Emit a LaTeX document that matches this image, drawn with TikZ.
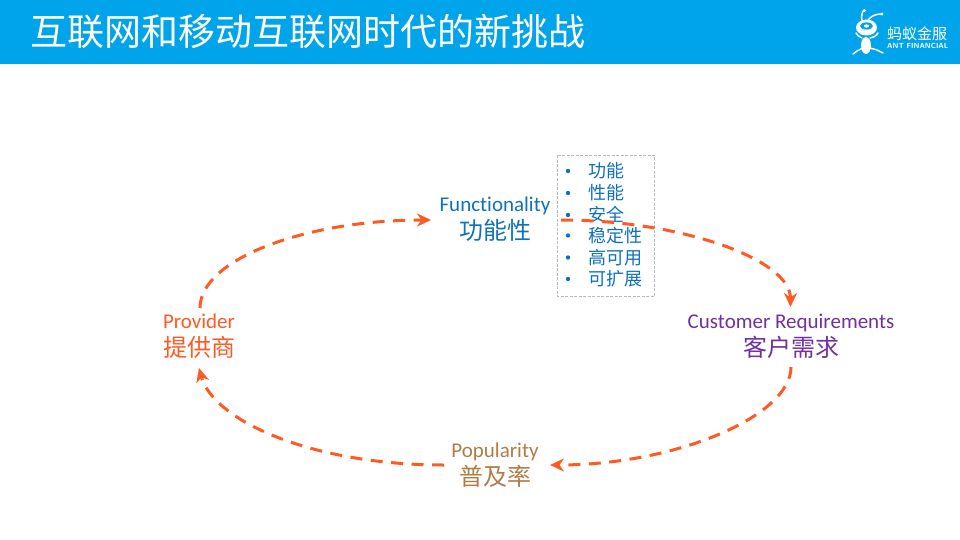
\documentclass[tikz,border=0pt]{standalone}
\usepackage{fontspec}
\setmainfont{Carlito}[Ligatures=NoCommon]
\newfontfamily\cjk{Noto Sans CJK SC}
\usetikzlibrary{arrows.meta}
\definecolor{hdr}{HTML}{00A4EA}
\definecolor{fblue}{HTML}{0F71BC}
\definecolor{cpurple}{HTML}{7030A0}
\definecolor{pbrown}{HTML}{B07C45}
\definecolor{orng}{HTML}{FF5A22}
\tikzset{
  lat/.style={font=\fontsize{#1}{#1}\selectfont,inner sep=0pt,anchor=center},
  han/.style={font=\cjk\fontsize{#1}{#1}\selectfont,inner sep=0pt,anchor=center},
  link/.style={draw=orng,line width=3pt,dash pattern=on 12pt off 8.5pt,
    -{Stealth[length=14pt,width=13pt,inset=4.5pt,sep=0pt]}},
  bullet/.style={circle,fill=fblue,inner sep=0pt,minimum size=4.4pt},
  item/.style={han=18,text=fblue,anchor=west},
  logoline/.style={draw=white,line width=1.5pt,line cap=round}
}
\begin{document}
\begin{tikzpicture}[x=1pt,y=-1pt]
\useasboundingbox (0,0) rectangle (960,540);
\fill[hdr] (0,0) rectangle (960,64);
\node[han=37,text=white,anchor=west] (title) at (30,31.5) {互联网和移动互联网时代的新挑战};
% logo
\fill[white] (866.5,27.5) ellipse (10.5 and 8);
\fill[hdr] (866.5,26) ellipse (6.5 and 3.6);
\fill[white] (866.5,26) ellipse (2.6 and 1.6);
\fill[white] (866,45.5) ellipse (5 and 8.5);
\path[logoline] (862,21) .. controls (861,16) and (862,12) .. (864,10);
\fill[white] (864.5,10.5) circle (1.7);
\path[logoline] (868,20) .. controls (871,16) and (876,14) .. (881,14);
\fill[white] (882,14) circle (1.7);
\path[logoline] (862,38) .. controls (859,37) and (857,35) .. (856,33);
\path[logoline] (870,38) .. controls (873,38) and (876,36) .. (878,33);
\path[logoline] (863,48) -- (857,51) -- (853,54);
\path[logoline] (870,48) -- (877,50) -- (883,53);
\node[han=15,text=white,anchor=west] (logozh) at (887,33.5) {蚂蚁金服};
\node[font=\sffamily\bfseries\fontsize{7.4}{7.4}\selectfont,text=white,inner sep=0pt,anchor=west] (logoen) at (887,45.5) {ANT FINANCIAL};
% labels
\node[lat=21,text=fblue] (fen) at (495,205.5) {Functionality};
\node[han=24,text=fblue] (fzh) at (495,230.5) {功能性};
\node[lat=21,text=cpurple] (cen) at (791,323) {Customer Requirements};
\node[han=24,text=cpurple] (czh) at (791,347.5) {客户需求};
\node[lat=21,text=orng] (pen) at (199,321) {Provider};
\node[han=24,text=orng] (pzh) at (199,347.5) {提供商};
\node[lat=21,text=pbrown] (uen) at (495,452) {Popularity};
\node[han=24,text=pbrown] (uzh) at (495,476.5) {普及率};
% list box
\draw[gray!55,dash pattern=on 3pt off 1.5pt,line width=0.8pt] (557,155.5) rectangle (654.5,296);
\foreach \n/\yy/\t in {a/171/功能,b/193/性能,c/215/安全,d/235.5/稳定性,e/257.5/高可用,f/279/可扩展}{
  \node[bullet] (b\n) at (568,\yy) {};
  \node[item] (i\n) at (588,\yy) {\t};
}
% connectors
\coordinate (p1) at (200,308);
\coordinate (f1) at (431,220);
\coordinate (f2) at (561,220);
\coordinate (c1) at (790.5,307);
\coordinate (c2) at (791,367);
\coordinate (u1) at (550,465);
\coordinate (u2) at (444,465);
\coordinate (p2) at (199,368);
\draw[link] (p1) .. controls (200,259) and (306,220) .. (f1);
\draw[link] (f2) .. controls (680,220) and (790.5,259) .. (c1);
\draw[link] (c2) .. controls (791,416) and (676,465) .. (u1);
\draw[link] (u2) .. controls (310,465) and (213,420) .. (p2);
\end{tikzpicture}
\end{document}
